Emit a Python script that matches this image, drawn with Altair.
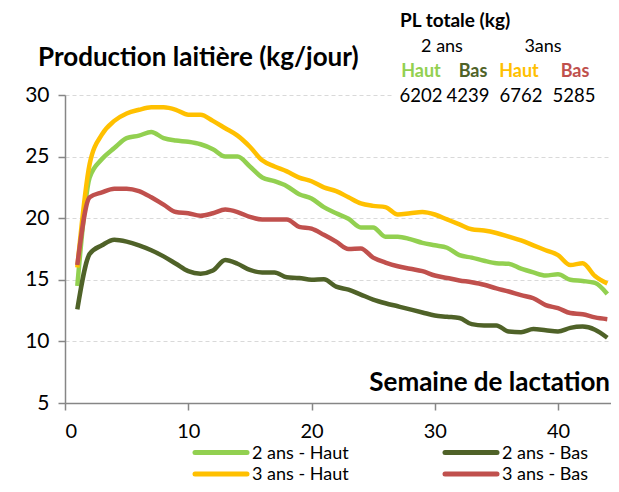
import altair as alt
import pandas as pd

weeks = list(range(1, 45))
series_names = ["2 ans - Haut", "2 ans - Bas", "3 ans - Haut", "3 ans - Bas"]
series_colors = ["#92D050", "#4F6228", "#FFC000", "#C0504D"]

haut_2 = [14.5, 23.3, 24.8, 25.7, 26.5, 26.7, 27.0, 26.5, 26.3, 26.2, 26.0, 25.6, 25.0, 25.0, 24.2,
          23.3, 23.0, 22.6, 21.95, 21.6, 20.9, 20.4, 19.95, 19.25, 19.25, 18.5, 18.5, 18.3, 18.0, 17.8,
          17.6, 17.0, 16.8, 16.55, 16.35, 16.3, 15.9, 15.6, 15.35, 15.45, 15.0, 14.9, 14.75, 13.85]
bas_2 = [12.6, 17.1, 17.8, 18.25, 18.1, 17.8, 17.4, 16.9, 16.3, 15.7, 15.5, 15.75, 16.6, 16.3, 15.8,
         15.6, 15.6, 15.2, 15.15, 15.0, 15.05, 14.45, 14.2, 13.8, 13.4, 13.1, 12.85, 12.6, 12.35, 12.1,
         12.0, 11.9, 11.4, 11.3, 11.3, 10.8, 10.75, 11.0, 10.9, 10.8, 11.1, 11.2, 10.95, 10.3]
haut_3 = [16.0, 24.4, 26.8, 27.9, 28.5, 28.8, 29.0, 29.0, 28.8, 28.4, 28.4, 27.9, 27.3, 26.7, 25.8,
          24.7, 24.2, 23.8, 23.3, 23.0, 22.5, 22.2, 21.7, 21.2, 21.0, 20.9, 20.3, 20.4, 20.5, 20.3,
          19.9, 19.5, 19.1, 19.0, 18.8, 18.5, 18.2, 17.8, 17.4, 17.0, 16.2, 16.35, 15.3, 14.7]
bas_3 = [16.2, 21.7, 22.1, 22.4, 22.4, 22.2, 21.7, 21.1, 20.5, 20.4, 20.2, 20.4, 20.7, 20.5, 20.1,
         19.9, 19.9, 19.9, 19.3, 19.15, 18.65, 18.1, 17.5, 17.55, 16.8, 16.4, 16.1, 15.9, 15.7, 15.35,
         15.15, 14.95, 14.8, 14.6, 14.3, 14.05, 13.75, 13.5, 12.95, 12.7, 12.3, 12.2, 11.95, 11.8]

totals_groups = ["2 ans", "3ans"]
totals_labels = ["Haut", "Bas", "Haut", "Bas"]
totals_values = ["6202", "4239", "6762", "5285"]

FONT = "Lato"

rows = []
for k, (name, vals) in enumerate(zip(series_names, [haut_2, bas_2, haut_3, bas_3])):
    for w, v in zip(weeks, vals):
        rows.append({"semaine": w, "pl": v, "serie": name, "ord": k})
df = pd.DataFrame(rows)

W, H = 546, 308

lines = alt.Chart(df).mark_line(strokeWidth=4.5, interpolate="monotone").encode(
    x=alt.X("semaine:Q", scale=alt.Scale(domain=[0, 44.3], nice=False),
            axis=alt.Axis(values=[0, 10, 20, 30, 40], title=None, grid=False,
                          labelFontSize=20, labelPadding=11, tickSize=7, labelFont=FONT,
                          domainColor="#868686", tickColor="#868686", domainWidth=1.5,
                          tickWidth=1.5, labelColor="black")),
    y=alt.Y("pl:Q", scale=alt.Scale(domain=[5, 30], nice=False),
            axis=alt.Axis(values=[5, 10, 15, 20, 25, 30], title=None, grid=True,
                          gridDash=[4, 3], gridColor="#d9d9d9", labelFontSize=21, labelPadding=9,
                          tickSize=7, labelFont=FONT, domainColor="#868686", tickColor="#868686",
                          domainWidth=1.5, tickWidth=1.5, labelColor="black")),
    color=alt.Color("serie:N", scale=alt.Scale(domain=series_names, range=series_colors),
                    legend=None),
    order="ord:Q",
)

# white box behind the totals block
box = alt.Chart(pd.DataFrame({"a": [0]})).mark_rect(color="white").encode(
    x=alt.value(328), x2=alt.value(W), y=alt.value(-9), y2=alt.value(12)
)

def txt(text, x, y, size=18, bold=False, color="black", align="left"):
    return alt.Chart(pd.DataFrame({"t": [text]})).mark_text(
        fontSize=size, fontWeight="bold" if bold else "normal", font=FONT, color=color,
        align=align, baseline="alphabetic").encode(text="t:N", x=alt.value(x), y=alt.value(y))

layers = [lines, box]
layers += [
    txt("Production laitière (kg/jour)", -27, -29, size=26, bold=True),
    txt("Semaine de lactation", 545, 296, size=26, bold=True, align="right"),
    txt("PL totale (kg)", 335, -68, size=19, bold=True),
    txt(totals_groups[0], 377, -43, size=18, align="center"),
    txt(totals_groups[1], 478, -43, size=18, align="center"),
]
label_x = [356, 408, 454, 510]
value_x = [356, 403, 456, 509]
for lab, val, col, lx, vx in zip(totals_labels, totals_values, series_colors, label_x, value_x):
    layers.append(txt(lab, lx, -18, size=18, bold=True, color=col, align="center"))
    layers.append(txt(val, vx, 7, size=18.5, align="center"))

# manual legend (2 columns x 2 rows)
leg_col_x = [130, 380]
leg_row_y = [363.5, 385]
for k, (name, col) in enumerate(zip(series_names, series_colors)):
    cx = leg_col_x[k % 2]
    ry = leg_row_y[k // 2]
    layers.append(
        alt.Chart(pd.DataFrame({"a": [0]})).mark_rule(color=col, strokeWidth=5, strokeCap="round").encode(
            x=alt.value(cx), x2=alt.value(cx + 52), y=alt.value(ry - 6), y2=alt.value(ry - 6))
    )
    layers.append(txt(name, cx + 57, ry, size=18))

chart = alt.layer(*layers).properties(
    width=W, height=H,
    autosize=alt.AutoSizeParams(type="none"),
    padding={"left": 57, "top": 87, "right": 0, "bottom": 81},
    background="white",
).configure_view(stroke=None)

chart.save("out.html", embed_options={"renderer": "svg", "actions": False})
